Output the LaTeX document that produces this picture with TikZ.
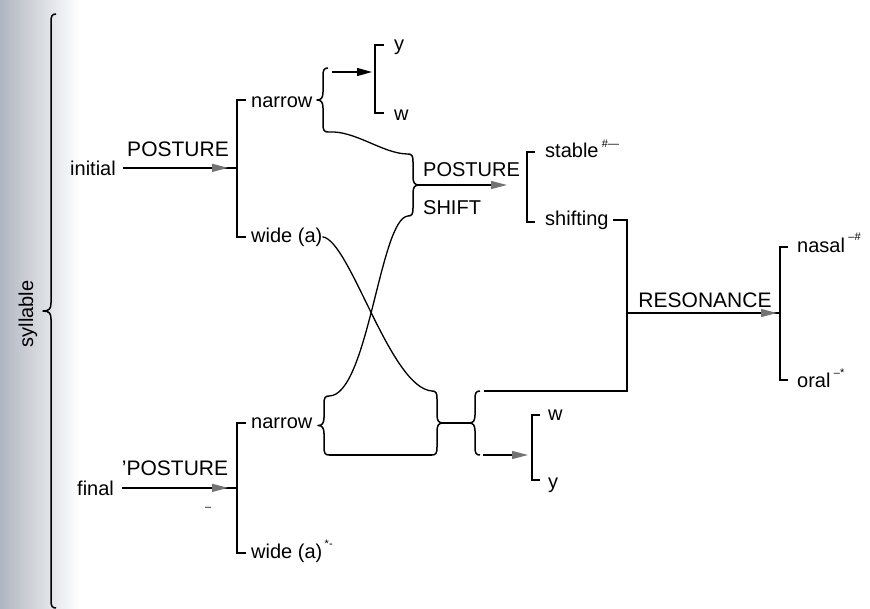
\documentclass[tikz,border=0pt]{standalone}
\usepackage{fontspec}
\setmainfont{Liberation Sans}
\usetikzlibrary{arrows.meta,decorations.markings}
\definecolor{scanL}{RGB}{176,182,192}
\definecolor{headgray}{RGB}{115,115,115}
% left brace: body x, top y, bottom y, tip width
\newcommand{\BraceL}[4]{%
  \draw[brcl] ({#1+5},#2) .. controls ({#1+1},#2) and (#1,{#2+2}) .. (#1,{#2+8}) -- (#1,{(#2+#3)/2-8})
    .. controls (#1,{(#2+#3)/2-2}) and ({#1-2},{(#2+#3)/2}) .. ({#1-#4},{(#2+#3)/2})
    .. controls ({#1-2},{(#2+#3)/2}) and (#1,{(#2+#3)/2+2}) .. (#1,{(#2+#3)/2+8}) -- (#1,{#3-8})
    .. controls (#1,{#3-2}) and ({#1+1},#3) .. ({#1+5},#3);}
\newcommand{\BraceR}[4]{%
  \draw[brcl] ({#1-5},#2) .. controls ({#1-1},#2) and (#1,{#2+2}) .. (#1,{#2+8}) -- (#1,{(#2+#3)/2-8})
    .. controls (#1,{(#2+#3)/2-2}) and ({#1+2},{(#2+#3)/2}) .. ({#1+#4},{(#2+#3)/2})
    .. controls ({#1+2},{(#2+#3)/2}) and (#1,{(#2+#3)/2+2}) .. (#1,{(#2+#3)/2+8}) -- (#1,{#3-8})
    .. controls (#1,{#3-2}) and ({#1-1},#3) .. ({#1-5},#3);}
\begin{document}
\begin{tikzpicture}[x=1pt,y=-1pt,
  lbl/.style={inner sep=0pt, anchor=base west, font=\fontsize{20}{24}\selectfont},
  caplbl/.style={inner sep=0pt, anchor=base, font=\fontsize{21}{24}\selectfont},
  supmark/.style={inner sep=0pt, anchor=base west, font=\fontsize{11}{12}\selectfont},
  ln/.style={line width=1.3pt},
  brk/.style={line width=1.6pt},
  brcl/.style={line width=1.5pt, line join=round},
  gtip/.style={-{Triangle[length=16pt,width=8pt,color=headgray]}},
  flow/.style={ln, postaction={decorate}, decoration={markings, mark=at position #1 with {\arrow{Triangle[length=16pt,width=8pt,color=headgray]}}}},
]
\useasboundingbox (0,0) rectangle (870,608);
\shade[left color=scanL, right color=white] (0,0) rectangle (80,608);

% big syllable brace
\BraceL{51}{14}{608}{8}
\node[font=\fontsize{20}{22}\selectfont, rotate=90, anchor=base, inner sep=0pt] (syl) at (33,314) {syllable};

% ---------- initial ----------
\node[lbl] (init) at (70,175) {initial};
\coordinate (b1t) at (237,100);
\coordinate (b1b) at (237,237);
\draw[brk] ([xshift=9pt]b1t) -- (b1t) -- (b1b) -- ([xshift=9pt]b1b);
\draw[flow=-9pt] ([xshift=7pt]init.east) -- (init.east -| b1t);
\node[caplbl] (post1) at (178,156) {POSTURE};
\node[lbl] (nar1) at (251,107) {narrow};
\node[lbl] (wid1) at (251,242) {wide (a)};

% upper narrow brace and y/w
\BraceL{323}{68}{132}{6}
\coordinate (nb1T) at (332,72);
\coordinate (nb1B) at (328,132);
\coordinate (yw1t) at (375,45);
\coordinate (yw1b) at (375,113);
\draw[brk] ([xshift=9pt]yw1t) -- (yw1t) -- (yw1b) -- ([xshift=9pt]yw1b);
\node[lbl] (y1) at (394,50) {y};
\node[lbl] (w1) at (394,120) {w};
\draw[ln, -{Triangle[length=15pt,width=8pt]}, shorten >=3pt] (nb1T) -- (nb1T -| yw1t);

% POSTURE SHIFT brace
\BraceR{413}{154}{216}{6}
\coordinate (psT) at (408,154);
\coordinate (psB) at (408,216);
\coordinate (psTip) at (419,185);
\draw[ln] (nb1B) .. controls (355,130) and (383,154) .. (psT);
\node[lbl] (post2) at (423,176) {POSTURE};
\node[lbl] (shift) at (423,214) {SHIFT};
\coordinate (psEnd) at (507,185);
\draw[ln, gtip] (psTip) -- (psEnd);

% stable / shifting
\coordinate (stT) at (527,152);
\coordinate (stB) at (527,222);
\draw[brk] ([xshift=8pt]stT) -- (stT) -- (stB) -- ([xshift=8pt]stB);
\node[lbl] (stable) at (545,157) {stable};
\node[supmark] (stsup) at ([xshift=3pt,yshift=10pt]stable.base east) {\#—};
\node[lbl] (shifting) at (545,225) {shifting};

% ---------- final ----------
\node[lbl] (fin) at (77,495) {final};
\coordinate (b2t) at (237,423);
\coordinate (b2b) at (237,553);
\draw[brk] ([xshift=9pt]b2t) -- (b2t) -- (b2b) -- ([xshift=9pt]b2b);
\draw[flow=-9pt] ([xshift=8pt]fin.east) -- (fin.east -| b2t);
\node[caplbl] (post3) at (175,475) {'POSTURE};
\node[supmark] (mk) at (205,510) {–};
\node[lbl] (nar2) at (251,428) {narrow};
\node[lbl] (wid2) at (251,558) {wide (a)};
\node[supmark] (wsup) at ([xshift=2pt,yshift=11pt]wid2.base east) {*-};

% final narrow brace and H junction
\BraceL{324}{396}{455}{6}
\coordinate (fnT) at (329,396);
\coordinate (fnB) at (329,455);
\BraceR{437}{391}{455}{6}
\coordinate (hbT) at (432,391);
\coordinate (hbB) at (432,455);
\coordinate (hbTip) at (443,423);
\BraceL{475}{391}{455}{6}
\coordinate (hb2T) at (480,391);
\coordinate (hb2B) at (480,455);
\coordinate (hb2Tip) at (469,423);
\draw[ln] (fnB) -- (hbB);
\draw[ln] (hbTip) -- (hb2Tip);

% crossing curves
\draw[ln] (wid1.east) .. controls (350,240) and (390,388) .. (hbT);
\draw[ln] (psB) .. controls (380,218) and (368,396) .. (fnT);

% lower w / y
\coordinate (wyT) at (532,415);
\coordinate (wyB) at (532,480);
\draw[brk] ([xshift=8pt]wyT) -- (wyT) -- (wyB) -- ([xshift=8pt]wyB);
\node[lbl] (w2) at (548,420) {w};
\node[lbl] (y2) at (548,488) {y};
\draw[ln, gtip, shorten >=4pt] ([xshift=3pt]hb2B) -- (hb2B -| wyT);

% resonance
\coordinate (rv) at (627,391);
\coordinate (rArr) at (627,313);
\draw[brk] ([xshift=4pt]shifting.east) -| (rv) -- ([xshift=4pt]hb2T);
\coordinate (nasT) at (780,247);
\coordinate (nasB) at (780,380);
\draw[brk] ([xshift=8pt]nasT) -- (nasT) -- (nasB) -- ([xshift=8pt]nasB);
\draw[flow=-3pt] (rArr) -- (rArr -| nasT);
\node[caplbl] (reso) at (705,307) {RESONANCE};
\node[lbl] (nasal) at (797,252) {nasal};
\node[supmark] (nsup) at ([xshift=3pt,yshift=12pt]nasal.base east) {–\#};
\node[lbl] (oral) at (797,387) {oral};
\node[supmark] (osup) at ([xshift=3pt,yshift=11pt]oral.base east) {–*};
\end{tikzpicture}
\end{document}
